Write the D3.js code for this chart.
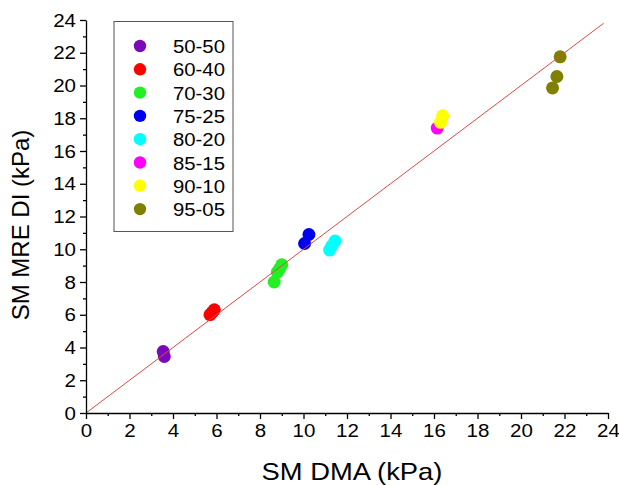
<!DOCTYPE html>
<html><head><meta charset="utf-8">
<script src="https://cdn.jsdelivr.net/npm/d3@7"></script>
<style>body{margin:0;background:#fff}svg{display:block}text{font-family:Arial,"Liberation Sans",sans-serif;fill:#000}</style>
</head><body>
<script>
const categories = ["50-50","60-40","70-30","75-25","80-20","85-15","90-10","95-05"];
const colors = ["#7a0ab8","#ff0000","#22f022","#0000f0","#00ffff","#ff00ff","#ffff00","#808000"];
const dmaValues = [
  [3.55, 3.6],
  [5.7, 5.8, 5.9],
  [8.65, 8.8, 8.9, 9.0],
  [10.05, 10.25],
  [11.2, 11.3, 11.45],
  [16.15],
  [16.3, 16.4],
  [21.45, 21.65, 21.8]
];
const mreValues = [
  [3.75, 3.45],
  [6.0, 6.15, 6.3],
  [8.0, 8.6, 8.8, 9.05],
  [10.35, 10.9],
  [9.95, 10.2, 10.5],
  [17.4],
  [17.75, 18.15],
  [19.85, 20.55, 21.75]
];
const tickValues = [0,2,4,6,8,10,12,14,16,18,20,22,24];
const lineEnds = [0, 23.8];

const W=619,H=485;
const svg=d3.select("body").append("svg").attr("width",W).attr("height",H);
const x=d3.scaleLinear().domain([0,24]).range([86,608]);
const y=d3.scaleLinear().domain([0,24]).range([413,20]);

// points
categories.forEach((c,i)=>{
  const pts=dmaValues[i].map((v,j)=>[v,mreValues[i][j]]);
  svg.append("g").selectAll("circle").data(pts).join("circle")
    .attr("cx",d=>x(d[0])).attr("cy",d=>y(d[1])).attr("r",6.5).attr("fill",colors[i]);
});

// diagonal line (drawn over points)
svg.append("line").attr("x1",x(lineEnds[0])).attr("y1",y(lineEnds[0])).attr("x2",x(lineEnds[1])).attr("y2",y(lineEnds[1]))
  .attr("stroke","#e04848").attr("stroke-width",1);

// axes
const minor=d3.range(1,24,2);
function styleAxis(g){
  g.selectAll(".domain").attr("stroke","#000").attr("stroke-width",1.3);
  g.selectAll(".tick line").attr("stroke","#000").attr("stroke-width",1.3);
  g.selectAll("text").attr("font-size","19px").attr("fill","#000").attr("font-family","Arial, 'Liberation Sans', sans-serif");
}
const gx=svg.append("g").attr("transform",`translate(0,${y(0)})`)
  .call(d3.axisBottom(x).tickValues(tickValues).tickSize(6).tickPadding(5).tickSizeOuter(0));
styleAxis(gx);
gx.selectAll(".tick text").each(function(){
  const t=d3.select(this); t.attr("transform","scale(1.08,1)");
});
svg.append("g").attr("transform",`translate(0,${y(0)})`)
  .call(d3.axisBottom(x).tickValues(minor).tickSize(3).tickFormat("").tickSizeOuter(0))
  .call(g=>{g.select(".domain").remove();g.selectAll(".tick line").attr("stroke","#000").attr("stroke-width",1.3);});
const gy=svg.append("g").attr("transform",`translate(${x(0)},0)`)
  .call(d3.axisLeft(y).tickValues(tickValues).tickSize(6).tickPadding(4).tickSizeOuter(0));
styleAxis(gy);
gy.selectAll(".tick text").attr("transform","scale(1.08,1)").attr("x",-10/1.08);
svg.append("g").attr("transform",`translate(${x(0)},0)`)
  .call(d3.axisLeft(y).tickValues(minor).tickSize(3).tickFormat("").tickSizeOuter(0))
  .call(g=>{g.select(".domain").remove();g.selectAll(".tick line").attr("stroke","#000").attr("stroke-width",1.3);});

// axis titles
svg.append("text").attr("transform","translate(352,480) scale(1.14,1)").attr("text-anchor","middle").attr("font-size","24px").text("SM DMA (kPa)");
svg.append("text").attr("transform","translate(29,225) rotate(-90)").attr("text-anchor","middle").attr("font-size","24px").text("SM MRE DI (kPa)");

// legend
const lg=svg.append("g");
lg.append("rect").attr("x",114).attr("y",21.5).attr("width",119).attr("height",210).attr("fill","#fff").attr("stroke","#555").attr("stroke-width",1);
categories.forEach((c,i)=>{
  const yy=46+i*23.3;
  lg.append("circle").attr("cx",140).attr("cy",yy).attr("r",6.2).attr("fill",colors[i]);
  lg.append("text").attr("transform",`translate(173,${yy+7}) scale(1.07,1)`).attr("font-size","19px").text(c);
});
</script>
</body></html>
